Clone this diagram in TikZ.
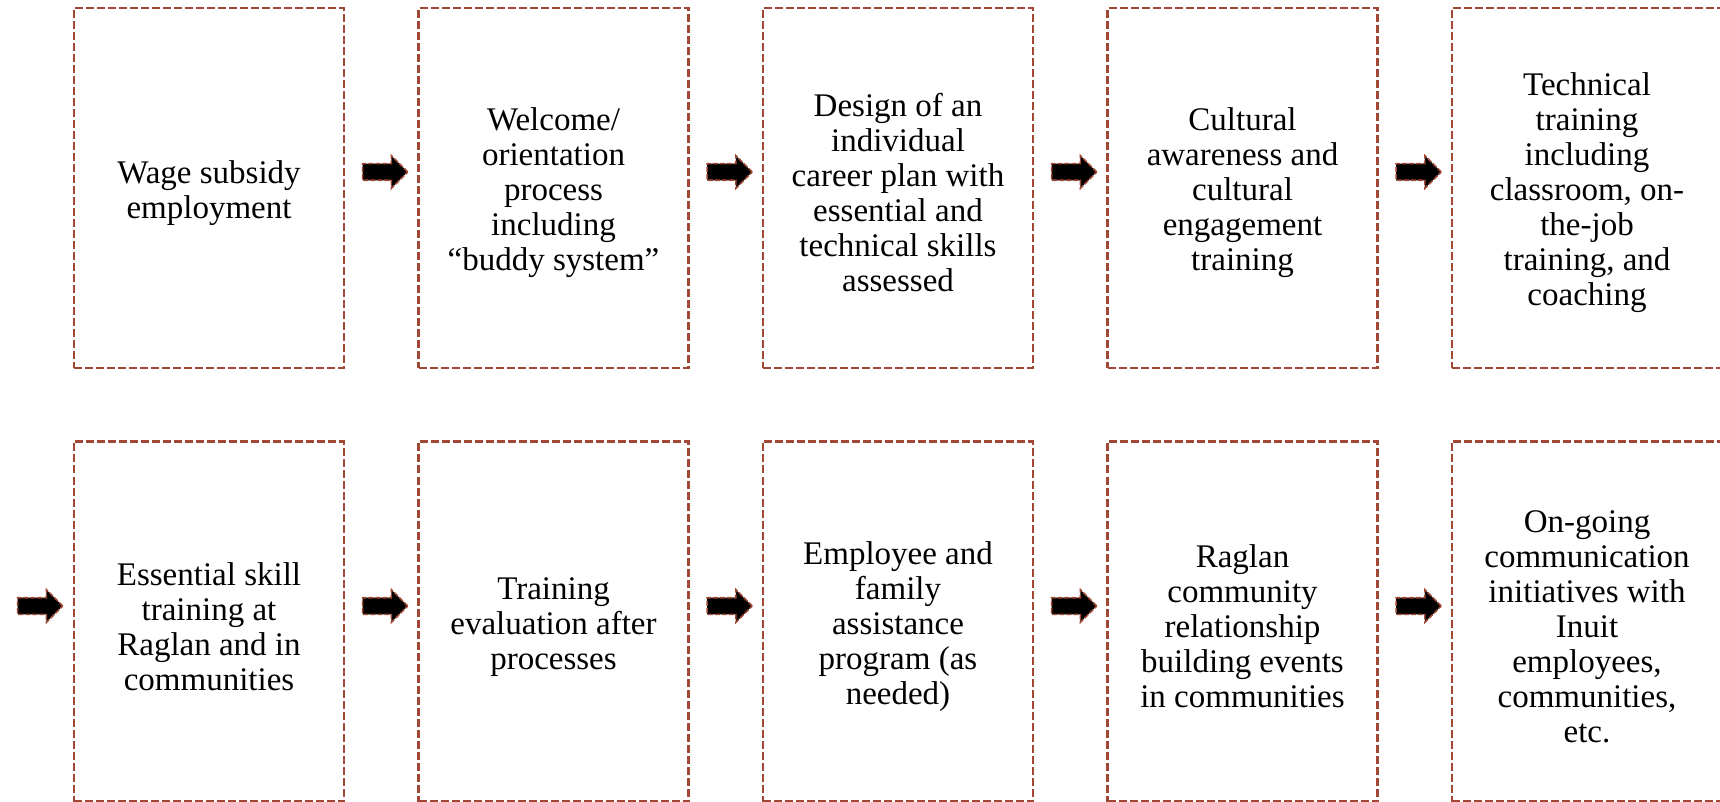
\documentclass[tikz,border=0pt]{standalone}
\usepackage{fontspec}
\setmainfont{Liberation Serif}
\usetikzlibrary{shapes.arrows}
\definecolor{boxred}{RGB}{160,72,52}
\newcommand{\tstrut}{\rule{0pt}{16.5pt}}
\newcommand{\shaft}{\rule{0pt}{7.5pt}}
\tikzset{
    stepbox/.style={rectangle,draw=boxred,dash pattern=on 4pt off 1.5pt,line width=1.1pt,
        minimum width=135pt,minimum height=180pt,inner sep=0pt,align=center,
        font=\fontsize{16.5}{17.5}\selectfont},
    flowarrow/.style={single arrow,fill=black,draw=boxred,dash pattern=on 2.5pt off 1pt,
        line width=0.8pt,minimum height=22.5pt,minimum width=0pt,
        single arrow head extend=4pt,inner sep=0pt},
}

\begin{document}
\begin{tikzpicture}[x=0.5pt,y=-0.5pt]
		\useasboundingbox (0,0) rectangle (1720,802);
		% top row
		\node[stepbox] (wage) at (209,188) {\tstrut Wage subsidy\\employment};
		\node[stepbox] (welcome) at (553.5,188) {\tstrut Welcome/\\orientation\\process\\including\\“buddy system”};
		\node[stepbox] (design) at (898,188) {\tstrut Design of an\\individual\\career plan with\\essential and\\technical skills\\assessed};
		\node[stepbox] (culture) at (1242.5,188) {\tstrut Cultural\\awareness and\\cultural\\engagement\\training};
		\node[stepbox] (technical) at (1587,188) {\tstrut Technical\\training\\including\\classroom, on-\\the-job\\training, and\\coaching};
		% bottom row
		\node[stepbox] (essential) at (209,621.5) {\tstrut Essential skill\\training at\\Raglan and in\\communities};
		\node[stepbox] (evaluation) at (553.5,621.5) {\tstrut Training\\evaluation after\\processes};
		\node[stepbox] (assistance) at (898,621.5) {\tstrut Employee and\\family\\assistance\\program (as\\needed)};
		\node[stepbox] (relation) at (1242.5,621.5) {\tstrut Raglan\\community\\relationship\\building events\\in communities};
		\node[stepbox] (ongoing) at (1587,621.5) {\tstrut On-going\\communication\\initiatives with\\Inuit\\employees,\\communities,\\etc.};
	
		\node[flowarrow] (a1) at (381,172) {\shaft};
		\node[flowarrow] (a2) at (725.5,172) {\shaft};
		\node[flowarrow] (a3) at (1070,172) {\shaft};
		\node[flowarrow] (a4) at (1414.5,172) {\shaft};
		\node[flowarrow] (a5) at (36,606) {\shaft};
		\node[flowarrow] (a6) at (381,606) {\shaft};
		\node[flowarrow] (a7) at (725.5,606) {\shaft};
		\node[flowarrow] (a8) at (1070,606) {\shaft};
		\node[flowarrow] (a9) at (1414.5,606) {\shaft};
	\end{tikzpicture}
\end{document}
